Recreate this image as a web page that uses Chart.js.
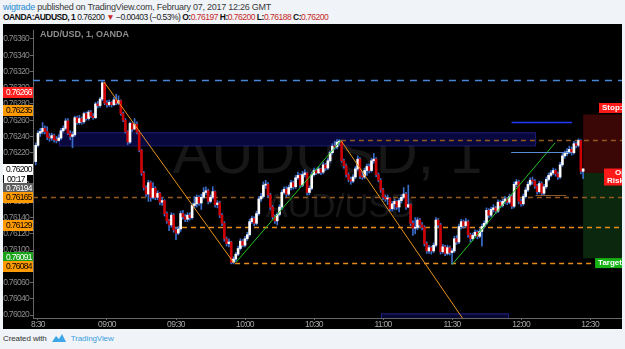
<!DOCTYPE html>
<html>
<head>
<meta charset="utf-8">
<script src="https://cdn.jsdelivr.net/npm/chart.js@4.4.0/dist/chart.umd.min.js"></script>
<style>
  body { margin: 0; width: 625px; height: 349px; overflow: hidden; background: #f0f3f7; position: relative;
         font-family: "Liberation Sans", Arial, sans-serif; }
  .hd { position: absolute; left: 3px; white-space: nowrap; color: #3a3a3a; }
  #hd1 { top: 2px; font-size: 9px; letter-spacing: -0.25px; }
  #hd2 { top: 12px; color: #222; font-size: 8.5px; letter-spacing: -0.5px; }
  #hd1 .user { color: #2a8cd2; }
  #hd2 b { color: #111; }
  #hd2 .red { color: #c62828; }
  #wrap { position: absolute; left: 3px; top: 24px; width: 619px; height: 305px; background: #000; }
  #foot { position: absolute; left: 3px; top: 333px; font-size: 8px; letter-spacing: -0.1px; color: #333; white-space: nowrap; }
  #foot svg { vertical-align: -2px; margin: 0 4px 0 4px; }
  #foot .tv { color: #3ba0e0; }
</style>
</head>
<body>
<div class="hd" id="hd1"><span class="user">wigtrade</span> published on TradingView.com, February 07, 2017 12:26 GMT</div>
<div class="hd" id="hd2"><b>OANDA:AUDUSD, 1</b> 0.76200 <span class="red">&#9660;</span> &minus;0.00403 (&minus;0.53%) <b>O:</b><span class="red">0.76197</span> <b>H:</b><span class="red">0.76200</span> <b>L:</b><span class="red">0.76188</span> <b>C:</b><span class="red">0.76200</span></div>
<div id="wrap"><canvas id="priceChart" width="619" height="305"></canvas></div>
<div id="foot">Created with<svg width="16" height="10" viewBox="0 0 16 10"><path d="M1 9 L5 3 L8 6 L11 1 L15 9 Z" fill="#3da6e6"/></svg><span class="tv">TradingView</span></div>

<script>
// 1 minute AUD/USD bars, first bar at 08:29
var startMinute = 509;
var firstOpen = 0.76209;
var closes = [
  0.76229, 0.76244, 0.76246, 0.76250, 0.76246, 0.76239, 0.76238, 0.76241, 0.76236, 0.76235, 0.76238,
  0.76247, 0.76250, 0.76259, 0.76244, 0.76240, 0.76242, 0.76263, 0.76257, 0.76262, 0.76258,
  0.76268, 0.76262, 0.76270, 0.76265, 0.76263, 0.76280, 0.76278, 0.76286, 0.76306, 0.76281,
  0.76279, 0.76282, 0.76279, 0.76285, 0.76281, 0.76284, 0.76268, 0.76260, 0.76246, 0.76233,
  0.76256, 0.76249, 0.76255, 0.76245, 0.76223, 0.76195, 0.76177, 0.76169, 0.76183, 0.76165,
  0.76176, 0.76165, 0.76170, 0.76159, 0.76161, 0.76145, 0.76136, 0.76131, 0.76143, 0.76125,
  0.76121, 0.76126, 0.76145, 0.76141, 0.76138, 0.76143, 0.76140, 0.76155, 0.76157, 0.76165,
  0.76158, 0.76165, 0.76171, 0.76173, 0.76160, 0.76165, 0.76172, 0.76156, 0.76158, 0.76143,
  0.76133, 0.76114, 0.76108, 0.76110, 0.76085, 0.76089, 0.76095, 0.76102, 0.76111, 0.76106,
  0.76114, 0.76119, 0.76135, 0.76139, 0.76133, 0.76145, 0.76163, 0.76166, 0.76180, 0.76181,
  0.76168, 0.76153, 0.76141, 0.76136, 0.76144, 0.76153, 0.76171, 0.76175, 0.76169, 0.76177,
  0.76183, 0.76178, 0.76189, 0.76192, 0.76180, 0.76193, 0.76195, 0.76171, 0.76176, 0.76193,
  0.76198, 0.76195, 0.76200, 0.76196, 0.76205, 0.76201, 0.76210, 0.76220, 0.76228, 0.76227,
  0.76233, 0.76234, 0.76210, 0.76204, 0.76193, 0.76187, 0.76185, 0.76190, 0.76200, 0.76212,
  0.76191, 0.76190, 0.76198, 0.76203, 0.76198, 0.76210, 0.76212, 0.76193, 0.76186, 0.76174,
  0.76165, 0.76163, 0.76164, 0.76151, 0.76157, 0.76160, 0.76153, 0.76161, 0.76165, 0.76169,
  0.76153, 0.76156, 0.76133, 0.76127, 0.76128, 0.76137, 0.76131, 0.76128, 0.76108, 0.76099,
  0.76103, 0.76099, 0.76106, 0.76137, 0.76131, 0.76098, 0.76104, 0.76096, 0.76103, 0.76097,
  0.76099, 0.76114, 0.76110, 0.76129, 0.76135, 0.76130, 0.76135, 0.76119, 0.76114, 0.76118,
  0.76122, 0.76117, 0.76123, 0.76129, 0.76133, 0.76149, 0.76143, 0.76150, 0.76152, 0.76148,
  0.76159, 0.76155, 0.76160, 0.76163, 0.76159, 0.76166, 0.76154, 0.76181, 0.76184, 0.76160,
  0.76157, 0.76166, 0.76174, 0.76181, 0.76186, 0.76185, 0.76179, 0.76172, 0.76182, 0.76170,
  0.76178, 0.76187, 0.76192, 0.76195, 0.76198, 0.76194, 0.76190, 0.76205, 0.76216, 0.76219,
  0.76221, 0.76224, 0.76220, 0.76231, 0.76229, 0.76235, 0.76197, 0.76200
];
var highs = [
  0.76232, 0.76247, 0.76250, 0.76257, 0.76253, 0.76252, 0.76244, 0.76244, 0.76243, 0.76240, 0.76242,
  0.76250, 0.76253, 0.76262, 0.76262, 0.76247, 0.76246, 0.76265, 0.76265, 0.76266, 0.76264,
  0.76270, 0.76270, 0.76272, 0.76272, 0.76268, 0.76282, 0.76283, 0.76288, 0.76308, 0.76307,
  0.76284, 0.76285, 0.76283, 0.76288, 0.76292, 0.76290, 0.76285, 0.76270, 0.76262, 0.76247,
  0.76258, 0.76257, 0.76262, 0.76258, 0.76247, 0.76224, 0.76197, 0.76179, 0.76186, 0.76185,
  0.76183, 0.76178, 0.76173, 0.76171, 0.76165, 0.76162, 0.76147, 0.76138, 0.76146, 0.76145,
  0.76128, 0.76129, 0.76148, 0.76149, 0.76144, 0.76146, 0.76146, 0.76158, 0.76166, 0.76168,
  0.76167, 0.76169, 0.76177, 0.76178, 0.76175, 0.76168, 0.76178, 0.76173, 0.76161, 0.76160,
  0.76145, 0.76135, 0.76116, 0.76114, 0.76111, 0.76092, 0.76097, 0.76105, 0.76114, 0.76113,
  0.76117, 0.76122, 0.76138, 0.76142, 0.76141, 0.76148, 0.76166, 0.76170, 0.76184, 0.76186,
  0.76183, 0.76170, 0.76155, 0.76143, 0.76146, 0.76156, 0.76174, 0.76178, 0.76178, 0.76180,
  0.76186, 0.76185, 0.76192, 0.76196, 0.76194, 0.76197, 0.76199, 0.76196, 0.76179, 0.76196,
  0.76201, 0.76200, 0.76203, 0.76201, 0.76208, 0.76207, 0.76213, 0.76222, 0.76231, 0.76234,
  0.76236, 0.76236, 0.76235, 0.76212, 0.76206, 0.76195, 0.76190, 0.76193, 0.76203, 0.76216,
  0.76214, 0.76197, 0.76201, 0.76206, 0.76206, 0.76213, 0.76219, 0.76214, 0.76195, 0.76188,
  0.76176, 0.76168, 0.76168, 0.76165, 0.76160, 0.76163, 0.76161, 0.76164, 0.76168, 0.76177,
  0.76171, 0.76180, 0.76157, 0.76136, 0.76140, 0.76140, 0.76139, 0.76134, 0.76130, 0.76110,
  0.76106, 0.76105, 0.76109, 0.76140, 0.76139, 0.76133, 0.76107, 0.76106, 0.76106, 0.76105,
  0.76102, 0.76117, 0.76118, 0.76132, 0.76138, 0.76137, 0.76139, 0.76137, 0.76121, 0.76121,
  0.76125, 0.76124, 0.76126, 0.76132, 0.76136, 0.76152, 0.76151, 0.76153, 0.76156, 0.76154,
  0.76162, 0.76161, 0.76163, 0.76166, 0.76165, 0.76169, 0.76168, 0.76184, 0.76187, 0.76186,
  0.76163, 0.76169, 0.76177, 0.76184, 0.76189, 0.76190, 0.76187, 0.76181, 0.76185, 0.76184,
  0.76181, 0.76190, 0.76195, 0.76198, 0.76201, 0.76200, 0.76196, 0.76208, 0.76219, 0.76222,
  0.76225, 0.76228, 0.76227, 0.76234, 0.76233, 0.76237, 0.76236, 0.76200
];
var lows = [
  0.76205, 0.76227, 0.76240, 0.76243, 0.76243, 0.76236, 0.76234, 0.76235, 0.76233, 0.76232, 0.76234,
  0.76236, 0.76245, 0.76248, 0.76242, 0.76236, 0.76226, 0.76240, 0.76255, 0.76255, 0.76255,
  0.76256, 0.76260, 0.76260, 0.76263, 0.76261, 0.76262, 0.76275, 0.76276, 0.76284, 0.76279,
  0.76276, 0.76277, 0.76276, 0.76278, 0.76279, 0.76279, 0.76266, 0.76258, 0.76244, 0.76230,
  0.76231, 0.76246, 0.76248, 0.76243, 0.76221, 0.76192, 0.76174, 0.76166, 0.76160, 0.76160,
  0.76163, 0.76162, 0.76162, 0.76156, 0.76155, 0.76142, 0.76133, 0.76124, 0.76128, 0.76122,
  0.76113, 0.76119, 0.76123, 0.76138, 0.76135, 0.76135, 0.76137, 0.76138, 0.76152, 0.76153,
  0.76155, 0.76150, 0.76163, 0.76168, 0.76157, 0.76158, 0.76163, 0.76153, 0.76152, 0.76140,
  0.76130, 0.76111, 0.76105, 0.76104, 0.76083, 0.76083, 0.76086, 0.76093, 0.76100, 0.76104,
  0.76104, 0.76112, 0.76117, 0.76133, 0.76130, 0.76131, 0.76143, 0.76160, 0.76164, 0.76176,
  0.76165, 0.76150, 0.76138, 0.76133, 0.76131, 0.76142, 0.76150, 0.76169, 0.76166, 0.76167,
  0.76174, 0.76175, 0.76176, 0.76187, 0.76177, 0.76178, 0.76190, 0.76168, 0.76168, 0.76174,
  0.76191, 0.76193, 0.76194, 0.76193, 0.76194, 0.76198, 0.76199, 0.76208, 0.76218, 0.76224,
  0.76225, 0.76229, 0.76208, 0.76201, 0.76190, 0.76184, 0.76181, 0.76183, 0.76188, 0.76198,
  0.76188, 0.76187, 0.76188, 0.76192, 0.76195, 0.76196, 0.76207, 0.76190, 0.76184, 0.76171,
  0.76162, 0.76160, 0.76156, 0.76148, 0.76148, 0.76150, 0.76150, 0.76147, 0.76158, 0.76163,
  0.76150, 0.76152, 0.76130, 0.76118, 0.76120, 0.76125, 0.76128, 0.76125, 0.76105, 0.76096,
  0.76096, 0.76095, 0.76097, 0.76104, 0.76128, 0.76095, 0.76096, 0.76093, 0.76094, 0.76094,
  0.76083, 0.76097, 0.76107, 0.76108, 0.76126, 0.76127, 0.76128, 0.76116, 0.76110, 0.76112,
  0.76116, 0.76114, 0.76115, 0.76105, 0.76127, 0.76131, 0.76140, 0.76141, 0.76147, 0.76145,
  0.76146, 0.76152, 0.76153, 0.76157, 0.76156, 0.76157, 0.76151, 0.76152, 0.76178, 0.76157,
  0.76154, 0.76155, 0.76164, 0.76172, 0.76179, 0.76181, 0.76176, 0.76169, 0.76170, 0.76167,
  0.76168, 0.76176, 0.76185, 0.76190, 0.76193, 0.76191, 0.76187, 0.76188, 0.76203, 0.76213,
  0.76216, 0.76219, 0.76217, 0.76218, 0.76226, 0.76227, 0.76194, 0.76188
];

// axes
var priceTicks = [0.76020, 0.76040, 0.76060, 0.76080, 0.76100, 0.76120, 0.76140, 0.76160, 0.76180,
                  0.76200, 0.76220, 0.76240, 0.76260, 0.76280, 0.76300, 0.76320, 0.76340, 0.76360];
var timeTicks = [510, 540, 570, 600, 630, 660, 690, 720, 750];
var timeLabels = ['8:30', '09:00', '09:30', '10:00', '10:30', '11:00', '11:30', '12:00', '12:30'];

// drawings, in minutes after midnight and price
var dashLevels = [0.76310, 0.76235, 0.76165, 0.76129, 0.76084];
var dashStarts = [507.8, 641.7, 507.8, 568.7, 595.7];
var orangeTrends = [[538.7, 0.76307, 595.2, 0.76084], [641.7, 0.76235, 694.6, 0.76016]];
var greenTrends = [[596.1, 0.76085, 641.7, 0.76235], [690.0, 0.76082, 734.8, 0.76232]];
var zoneBand = [519.1, 726.1, 0.76229, 0.76245];
var lowBand = [659.1, 714.3, 0.76010, 0.76022];
var shortLines = [[715.9, 742.2, 0.76258], [715.7, 742.2, 0.76221], [726.3, 739.7, 0.76168]];
var position = { start: 747, stop: 0.76267, entry: 0.76195, target: 0.76090 };

// price tags on the axis: text, price where the tag sits, kind
var axisTags = [
  ['0.76266', 0.76295, 'red'], ['0.76235', 0.76273, 'orange'], ['0.76200', 0.76200, 'white'],
  ['00:17', 0.76188, 'clock'], ['0.76194', 0.76177, 'gray'], ['0.76165', 0.76165, 'orange'],
  ['0.76129', 0.76131, 'orange'], ['0.76091', 0.76091, 'green'], ['0.76084', 0.76080, 'orange']
];

var axisFont = '"Liberation Sans", Arial, sans-serif';

var bodies = [], wicks = [], bodyColors = [];
var prev = firstOpen;
for (var i = 0; i < closes.length; i++) {
  var t = startMinute + i;
  bodies.push({x: t, y: [prev, closes[i]]});
  wicks.push({x: t, y: [lows[i], highs[i]]});
  bodyColors.push(closes[i] >= prev ? '#ffffff' : '#cc0000');
  prev = closes[i];
}

var tagStyle = {
  red: ['#ff1f1f', '#ffffff'], orange: ['#ff9a00', '#000000'], white: ['#ffffff', '#000000'],
  clock: ['#ffffff', '#000000'], gray: ['#5d5d5d', '#ffffff'], green: ['#19a319', '#ffffff']
};

var drawings = {
  id: 'drawings',
  beforeDraw: function(chart) {
    // narrow axis text, like the TradingView scale
    chart.ctx.letterSpacing = '-0.7px';
  },
  beforeDatasetsDraw: function(chart) {
    var c = chart.ctx, a = chart.chartArea, x = chart.scales.x, y = chart.scales.y;
    c.letterSpacing = '0px';
    c.save();
    c.beginPath(); c.rect(a.left, a.top, a.right - a.left, a.bottom - a.top); c.clip();
    // watermark
    c.fillStyle = 'rgba(255,255,255,0.09)';
    c.textAlign = 'center';
    c.font = '58px "Liberation Sans", Arial, sans-serif';
    c.fillText('AUDUSD, 1', (a.left + a.right) / 2, 173 - 24);
    c.font = '33px "Liberation Sans", Arial, sans-serif';
    c.fillText('AUD/USD', 340 - 3, 217 - 24);
    c.textAlign = 'left';
    c.font = 'bold 9px "Liberation Sans", Arial, sans-serif';
    c.fillStyle = '#8e8e8e';
    c.fillText('AUD/USD, 1, OANDA', 37, 13);
    // navy zone
    var l = x.getPixelForValue(zoneBand[0]), r = x.getPixelForValue(zoneBand[1]);
    var t1 = y.getPixelForValue(zoneBand[3]), b1 = y.getPixelForValue(zoneBand[2]);
    c.fillStyle = '#08083e'; c.fillRect(l, t1, r - l, b1 - t1);
    c.strokeStyle = '#1c1c78'; c.lineWidth = 1; c.strokeRect(l + 0.5, t1 + 0.5, r - l, b1 - t1);
    l = x.getPixelForValue(lowBand[0]); r = x.getPixelForValue(lowBand[1]);
    t1 = y.getPixelForValue(lowBand[3]); b1 = y.getPixelForValue(lowBand[2]);
    c.fillStyle = '#06062e'; c.fillRect(l, t1, r - l, b1 - t1);
    c.strokeStyle = '#22228a'; c.strokeRect(l + 0.5, t1 + 0.5, r - l, b1 - t1);
    // long position box
    var px0 = x.getPixelForValue(position.start);
    var ys = y.getPixelForValue(position.stop), ye = y.getPixelForValue(position.entry), yt = y.getPixelForValue(position.target);
    c.fillStyle = '#3a0606'; c.fillRect(px0, ys, a.right - px0, ye - ys);
    c.fillStyle = '#0b280e'; c.fillRect(px0, ye, a.right - px0, yt - ye);
    // dashed levels
    var colors = ['#4a86d8', '#93591f', '#93591f', '#e88c1a', '#e88c1a'];
    for (var k = 0; k < dashLevels.length; k++) {
      var yy = Math.round(y.getPixelForValue(dashLevels[k])) + 0.5;
      c.strokeStyle = colors[k];
      c.lineWidth = k === 0 ? 1.5 : 1.3;
      c.setLineDash(k === 0 ? [7, 6] : [5, 4]);
      c.beginPath(); c.moveTo(x.getPixelForValue(dashStarts[k]), yy); c.lineTo(a.right, yy); c.stroke();
    }
    c.setLineDash([]);
    c.restore();
  },
  afterDatasetsDraw: function(chart) {
    var c = chart.ctx, a = chart.chartArea, x = chart.scales.x, y = chart.scales.y;
    c.save();
    c.beginPath(); c.rect(a.left, a.top, a.right - a.left, a.bottom - a.top); c.clip();
    c.lineWidth = 1;
    function seg(s, col) {
      c.strokeStyle = col;
      c.beginPath();
      c.moveTo(x.getPixelForValue(s[0]), y.getPixelForValue(s[1]));
      c.lineTo(x.getPixelForValue(s[2]), y.getPixelForValue(s[3]));
      c.stroke();
    }
    orangeTrends.forEach(function(s) { seg(s, '#e8921c'); });
    greenTrends.forEach(function(s) { seg(s, '#22c322'); });
    var shortColors = ['#2438ff', '#5a8ad6', '#8a5a2a'];
    shortLines.forEach(function(s, k) {
      var yy = Math.round(y.getPixelForValue(s[2])) + 0.5;
      c.strokeStyle = shortColors[k]; c.lineWidth = k === 0 ? 1.5 : 1;
      c.beginPath(); c.moveTo(x.getPixelForValue(s[0]), yy); c.lineTo(x.getPixelForValue(s[1]), yy); c.stroke();
    });
    // position labels at the right edge
    c.font = 'bold 8px "Liberation Sans", Arial, sans-serif';
    c.textBaseline = 'middle';
    function tag(t, p, h, bg, lines) {
      var lx = x.getPixelForValue(t), cy = y.getPixelForValue(p);
      c.fillStyle = bg; c.fillRect(lx, cy - h / 2, a.right - lx + 4, h);
      c.fillStyle = '#ffffff';
      lines.forEach(function(s, j) { c.fillText(s, lx + 3 + (lines.length > 1 && j === 0 ? 8 : 0), cy + (j - (lines.length - 1) / 2) * 8); });
    }
    tag(753.9, 0.76275, 10, '#ff1a1a', ['Stop: 0.76266']);
    tag(756.1, 0.76190, 17, '#ff1a1a', ['Open P&L', 'Risk/Reward']);
    tag(752.2, 0.76084, 10, '#17b317', ['Target: 0.76091']);
    c.restore();
  },
  afterDraw: function(chart) {
    var c = chart.ctx, a = chart.chartArea, y = chart.scales.y;
    c.save();
    c.letterSpacing = '-0.7px';
    c.font = '8.5px ' + axisFont;
    c.textBaseline = 'middle';
    axisTags.forEach(function(tg) {
      var cy = Math.round(y.getPixelForValue(tg[1]));
      var st = tagStyle[tg[2]];
      var w = tg[2] === 'clock' ? 23 : a.left;
      c.fillStyle = st[0];
      c.fillRect(tg[2] === 'clock' ? 1 : 0, cy - 5, w, 11);
      c.fillStyle = st[1];
      c.textAlign = 'left';
      c.fillText(tg[0], tg[2] === 'clock' ? 4 : 3, cy + 0.5);
    });
    c.restore();
    c.letterSpacing = '0px';
  }
};

new Chart(document.getElementById('priceChart'), {
  type: 'bar',
  data: {
    datasets: [
      { label: 'body', data: bodies, backgroundColor: bodyColors, barThickness: 2, minBarLength: 1, grouped: false, order: 0 },
      { label: 'wick', data: wicks, backgroundColor: '#3a6cc8', barThickness: 1, grouped: false, order: 1 }
    ]
  },
  options: {
    responsive: false,
    animation: false,
    layout: { padding: { top: 1, right: 0, left: 0, bottom: 0 } },
    plugins: { legend: { display: false }, tooltip: { enabled: false } },
    scales: {
      x: {
        type: 'linear', min: 507.83, max: 763.9, offset: false,
        grid: { display: true, drawOnChartArea: false, offset: false, tickLength: 2, color: '#666' },
        border: { color: '#666' },
        ticks: { color: '#a8a8a8', font: { size: 8.5, family: axisFont }, padding: 0,
                 maxRotation: 0, autoSkip: false,
                 callback: function(v) { return timeLabels[timeTicks.indexOf(v)]; } },
        afterBuildTicks: function(s) { s.ticks = timeTicks.map(function(v) { return {value: v}; }); },
        afterFit: function(s) { s.height = 11; }
      },
      y: {
        position: 'left', min: 0.760164, max: 0.763709,
        grid: { display: true, drawOnChartArea: false, tickLength: 3, color: '#666' },
        border: { color: '#666' },
        ticks: { color: '#8c8c8c', font: { size: 8.5, family: axisFont }, padding: 1,
                 autoSkip: false,
                 callback: function(v) { return v.toFixed(5); } },
        afterBuildTicks: function(s) { s.ticks = priceTicks.map(function(v) { return {value: v}; }); },
        afterFit: function(s) { s.width = 30; }
      }
    }
  },
  plugins: [drawings]
});
</script>
</body>
</html>
